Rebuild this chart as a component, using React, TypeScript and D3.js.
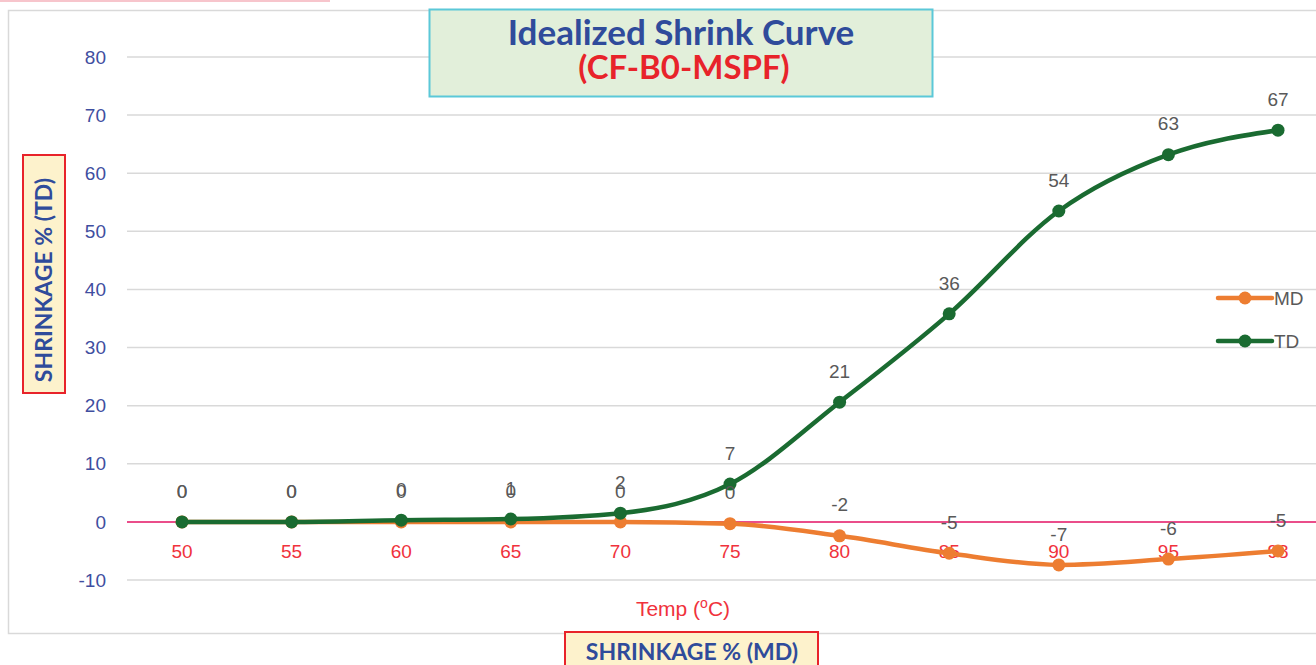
import React, { useEffect, useRef } from "react";
import * as d3 from "d3";

const temps = ["50", "55", "60", "65", "70", "75", "80", "85", "90", "95", "98"];
const mdValues = [0, 0, 0, 0, 0, -0.3, -2.4, -5.4, -7.4, -6.4, -5.0];
const tdValues = [0, 0, 0.3, 0.5, 1.5, 6.5, 20.6, 35.8, 53.5, 63.2, 67.4];
const yTicks = [-10, 0, 10, 20, 30, 40, 50, 60, 70, 80];
const seriesNames = ["MD", "TD"];

const App = () => {
    const chartRef = useRef<HTMLDivElement>(null);

    useEffect(() => {
        const width = 1316;
        const height = 665;
        const plot = { left: 127, right: 1316, top: 57, bottom: 580 };

        d3.select(chartRef.current).select("svg").remove();

        const svg = d3
            .select(chartRef.current)
            .append("svg")
            .attr("width", width)
            .attr("height", height)
            .style("position", "absolute")
            .style("left", 0)
            .style("top", 0)
            .style("background", "#fff");

        const font = "'Liberation Sans', Arial, sans-serif";
        const boldFont = "Lato, 'Open Sans', sans-serif";

        // stray pink line at the very top
        svg.append("line")
            .attr("x1", 0).attr("x2", 330).attr("y1", 1).attr("y2", 1)
            .attr("stroke", "#f7c5cc").attr("stroke-width", 2);

        // chart frame
        svg.append("rect")
            .attr("x", 8.5).attr("y", 10.5)
            .attr("width", 1320).attr("height", 623)
            .attr("fill", "none")
            .attr("stroke", "#d9d9d9").attr("stroke-width", 1.5);

        const xScale = d3
            .scalePoint()
            .domain(temps)
            .range([182, 1278]);

        const yScale = d3
            .scaleLinear()
            .domain([-10, 80])
            .range([plot.bottom, plot.top]);

        // gridlines
        svg.append("g")
            .selectAll("line")
            .data(yTicks.filter((t) => t !== 0))
            .join("line")
            .attr("x1", plot.left).attr("x2", plot.right)
            .attr("y1", (d) => yScale(d)).attr("y2", (d) => yScale(d))
            .attr("stroke", "#d9d9d9").attr("stroke-width", 1.5);

        // zero line
        svg.append("line")
            .attr("x1", plot.left).attr("x2", plot.right)
            .attr("y1", yScale(0)).attr("y2", yScale(0))
            .attr("stroke", "#ea4d8a").attr("stroke-width", 2);

        // y tick labels
        svg.append("g")
            .selectAll("text")
            .data(yTicks)
            .join("text")
            .attr("x", 106)
            .attr("y", (d) => yScale(d))
            .attr("dy", "0.35em")
            .attr("text-anchor", "end")
            .attr("font-family", font)
            .attr("font-size", 19)
            .attr("fill", "#3f4ea0")
            .text((d) => d);

        // x tick labels
        svg.append("g")
            .selectAll("text")
            .data(temps)
            .join("text")
            .attr("x", (d) => xScale(d) as number)
            .attr("y", yScale(0) + 29)
            .attr("dy", "0.35em")
            .attr("text-anchor", "middle")
            .attr("font-family", font)
            .attr("font-size", 19)
            .attr("fill", "#f0323c")
            .text((d) => d);

        // x axis title
        const xt = svg.append("text")
            .attr("x", 683).attr("y", 616)
            .attr("text-anchor", "middle")
            .attr("font-family", font)
            .attr("font-size", 21)
            .attr("fill", "#f0323c");
        xt.append("tspan").text("Temp (");
        xt.append("tspan").attr("font-size", 14).attr("dy", -8).text("o");
        xt.append("tspan").attr("dy", 8).text("C)");

        const line = d3
            .line<number>()
            .x((d, i) => xScale(temps[i]) as number)
            .y((d) => yScale(d))
            .curve(d3.curveMonotoneX);

        const series = [
            { name: seriesNames[0], values: mdValues, color: "#ed7d31" },
            { name: seriesNames[1], values: tdValues, color: "#1a6b31" },
        ];

        series.forEach((s) => {
            svg.append("path")
                .datum(s.values)
                .attr("fill", "none")
                .attr("stroke", s.color)
                .attr("stroke-width", 4.5)
                .attr("stroke-linecap", "round")
                .attr("d", line);

            svg.append("g")
                .selectAll("circle")
                .data(s.values)
                .join("circle")
                .attr("cx", (d, i) => xScale(temps[i]) as number)
                .attr("cy", (d) => yScale(d))
                .attr("r", 6.5)
                .attr("fill", s.color);
        });

        // data labels
        series.forEach((s) => {
            svg.append("g")
                .selectAll("text")
                .data(s.values)
                .join("text")
                .attr("x", (d, i) => xScale(temps[i]) as number)
                .attr("y", (d) => yScale(d) - 31)
                .attr("dy", "0.35em")
                .attr("text-anchor", "middle")
                .attr("font-family", font)
                .attr("font-size", 19)
                .attr("fill", "#595959")
                .text((d) => Math.round(d) === 0 ? "0" : Math.round(d));
        });

        // legend
        series.forEach((s, i) => {
            const ly = 298 + i * 43;
            svg.append("line")
                .attr("x1", 1218).attr("x2", 1272)
                .attr("y1", ly).attr("y2", ly)
                .attr("stroke", s.color).attr("stroke-width", 4.5)
                .attr("stroke-linecap", "round");
            svg.append("circle")
                .attr("cx", 1245).attr("cy", ly).attr("r", 6.5)
                .attr("fill", s.color);
            svg.append("text")
                .attr("x", 1274).attr("y", ly)
                .attr("dy", "0.35em")
                .attr("font-family", font)
                .attr("font-size", 19)
                .attr("fill", "#595959")
                .text(s.name);
        });

        // title box
        svg.append("rect")
            .attr("x", 429.5).attr("y", 9.5)
            .attr("width", 503).attr("height", 87)
            .attr("fill", "#e2efda")
            .attr("stroke", "#5bc8d8").attr("stroke-width", 2);
        svg.append("text")
            .attr("x", 681).attr("y", 45)
            .attr("text-anchor", "middle")
            .attr("font-family", boldFont)
            .attr("font-weight", "bold")
            .attr("font-size", 35)
            .attr("fill", "#2f4b9b")
            .text("Idealized Shrink Curve");
        svg.append("text")
            .attr("x", 684).attr("y", 79)
            .attr("text-anchor", "middle")
            .attr("font-family", boldFont)
            .attr("font-weight", "bold")
            .attr("font-size", 33)
            .attr("fill", "#e8232a")
            .text("(CF-B0-MSPF)");

        // y axis title box
        svg.append("rect")
            .attr("x", 23).attr("y", 155)
            .attr("width", 42).attr("height", 238)
            .attr("fill", "#fdf2cc")
            .attr("stroke", "#e8232a").attr("stroke-width", 2);
        svg.append("text")
            .attr("transform", "translate(44,280) rotate(-90)")
            .attr("text-anchor", "middle")
            .attr("dy", "0.35em")
            .attr("font-family", boldFont)
            .attr("font-weight", "bold")
            .attr("font-size", 23)
            .attr("fill", "#2f4b9b")
            .text("SHRINKAGE % (TD)");

        // bottom axis title box
        svg.append("rect")
            .attr("x", 565).attr("y", 632)
            .attr("width", 253).attr("height", 40)
            .attr("fill", "#fdf2cc")
            .attr("stroke", "#e8232a").attr("stroke-width", 2);
        svg.append("text")
            .attr("x", 692).attr("y", 652)
            .attr("text-anchor", "middle")
            .attr("dy", "0.35em")
            .attr("font-family", boldFont)
            .attr("font-weight", "bold")
            .attr("font-size", 23)
            .attr("fill", "#2f4b9b")
            .text("SHRINKAGE % (MD)");
    }, []);

    return <div ref={chartRef}></div>;
};

export default App;
